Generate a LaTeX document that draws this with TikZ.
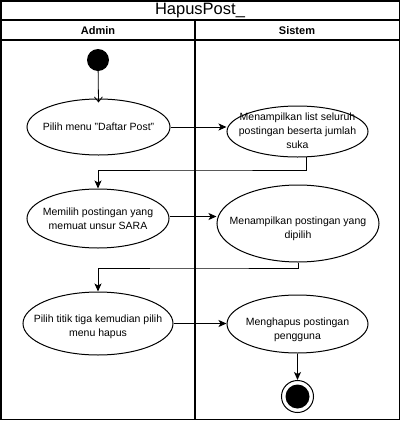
\documentclass[tikz,border=0pt]{standalone}
\usepackage{fontspec}
\setmainfont{Liberation Sans}
\usetikzlibrary{shapes.geometric,arrows.meta}
\begin{document}
\begin{tikzpicture}[x=1pt,y=-1pt,
  act/.style={ellipse,draw,line width=1pt,fill=white,inner sep=0pt},
  txt/.style={align=center,font=\fontsize{10.5}{14}\selectfont,inner sep=0pt},
  frame/.style={line width=1.6pt},
  arr/.style={line width=1pt,-{Stealth[length=8pt,width=7pt,inset=2pt]}},
  openarr/.style={line width=0.8pt,-{Straight Barb[length=5pt,width=8pt]}}]
\useasboundingbox (0,0) rectangle (401,421);
% frame
\draw[frame] (1,1) rectangle (399.5,419.5);
\draw[frame] (1,20) -- (399.5,20);
\draw[frame] (1,40) -- (399.5,40);
\draw[frame] (195,20) -- (195,419.5);
\node[font=\fontsize{16.5}{20}\selectfont] (title) at (200,10.5) {HapusPost\_};
\node[font=\bfseries\fontsize{11}{13}\selectfont] (h1) at (98,30.5) {Admin};
\node[font=\bfseries\fontsize{11}{13}\selectfont] (h2) at (297,30.5) {Sistem};
% start
\node[circle,fill=black,inner sep=0pt,minimum width=21pt,minimum height=22pt] (s) at (98,60) {};
% activities
\node[act,minimum width=143pt,minimum height=56pt] (a1) at (98.5,127) {};
\node[txt] at (a1) {Pilih menu "Daftar Post"};
\node[act,minimum width=141pt,minimum height=51pt] (a2) at (297.5,131.5) {};
\node[txt] at ([yshift=1pt]a2.center) {Menampilkan list seluruh\\postingan beserta jumlah\\suka};
\node[act,minimum width=142pt,minimum height=59pt] (a3) at (98,218.5) {};
\node[txt] at (a3) {Memilih postingan yang\\memuat unsur SARA};
\node[act,minimum width=162pt,minimum height=77pt] (a4) at (298,223.5) {};
\node[txt] at ([yshift=-5pt]a4.center) {Menampilkan postingan yang\\dipilih};
\node[act,minimum width=150pt,minimum height=63pt] (a5) at (98,323.5) {};
\node[txt] at ([yshift=-3pt]a5.center) {Pilih titik tiga kemudian pilih\\menu hapus};
\node[act,minimum width=141pt,minimum height=58pt] (a6) at (297.5,324) {};
\node[txt] at ([yshift=-6pt]a6.center) {Menghapus postingan\\pengguna};
% end
\node[circle,draw,line width=1pt,fill=white,inner sep=0pt,minimum width=29pt,minimum height=32pt] (e) at (297.5,396.5) {};
\node[circle,fill=black,inner sep=0pt,minimum width=22pt,minimum height=24pt] (ei) at (e) {};
% bends
\coordinate (k1) at (200,170);
\coordinate (k2) at (200,268);
% connectors
\draw[openarr] (s) -- ([yshift=-4pt]a1.north);
\draw[arr] (a1.east) -- (a1.east -| a2.west);
\draw[arr] (a2.290) |- (k1) -| (a3.north);
\draw[arr] ([yshift=2pt]a3.east) -- ([yshift=2pt]a3.east -| a4.west);
\draw[arr] (a4.south) |- (k2) -| (a5.north);
\draw[arr] (a5.east) -- (a5.east -| a6.west);
\draw[arr] (a6.south) -- (e.north);
\end{tikzpicture}
\end{document}
